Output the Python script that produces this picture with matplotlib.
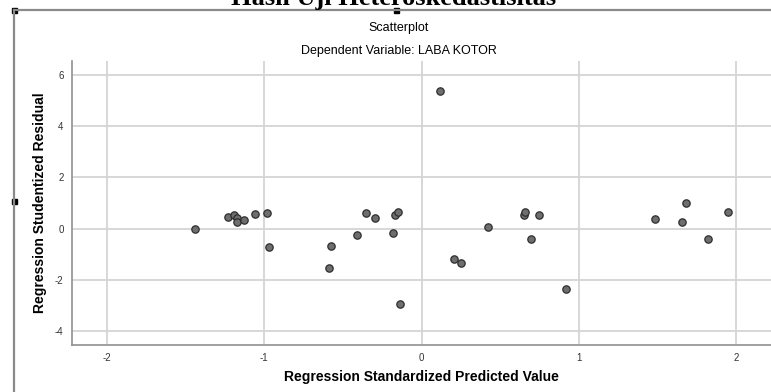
import matplotlib
matplotlib.use("Agg")
import matplotlib.pyplot as plt
from matplotlib.lines import Line2D
from matplotlib.patches import Rectangle

# standardized predicted value vs studentized residual
pred = [-1.44, -1.23, -1.19, -1.17, -1.17, -1.13, -1.055, -0.983, -0.970,
        -0.588, -0.575, -0.412, -0.352, -0.293, -0.183, -0.166, -0.151, -0.138,
        0.117, 0.208, 0.253, 0.422, 0.648, 0.660, 0.694, 0.749, 0.921,
        1.484, 1.652, 1.679, 1.817, 1.949]
resid = [0.00, 0.47, 0.52, 0.40, 0.26, 0.34, 0.56, 0.60, -0.72,
         -1.54, -0.68, -0.26, 0.60, 0.43, -0.18, 0.54, 0.63, -2.95,
         5.38, -1.19, -1.33, 0.08, 0.52, 0.65, -0.41, 0.54, -2.38,
         0.38, 0.26, 1.01, -0.39, 0.63]

xticks = [-2, -1, 0, 1, 2]
yticks = [-4, -2, 0, 2, 4, 6]

W, H = 771, 392
plt.rcParams['font.family'] = ['Liberation Sans', 'DejaVu Sans']

fig = plt.figure(figsize=(W / 100, H / 100), dpi=100)

# page decoration: frame lines and selection handles
fig.add_artist(Line2D([14 / W, 1], [1 - 10 / H, 1 - 10 / H], color='#8a8a8a', lw=1.6))
fig.add_artist(Line2D([14 / W, 14 / W], [0, 1 - 10 / H], color='#8a8a8a', lw=1.6))
for hx, hy in [(14, 10), (397, 10), (14, 202)]:
    fig.add_artist(Rectangle(((hx - 2.5) / W, 1 - (hy + 2.5) / H), 5 / W, 5 / H,
                             color='black'))

fig.text(394 / W, 1 - 5 / H, 'Hasil Uji Heteroskedastisitas', ha='center', va='baseline',
         fontsize=19, fontweight='bold', family=['Liberation Serif', 'DejaVu Serif'])
fig.text(399 / W, 1 - 28 / H, 'Scatterplot', ha='center', va='center', fontsize=9)
fig.text(399 / W, 1 - 51 / H, 'Dependent Variable: LABA KOTOR', ha='center', va='center',
         fontsize=9)

ax = fig.add_axes([72 / W, (H - 345) / H, (W - 72) / W, (345 - 61) / H])
ax.scatter(pred, resid, s=28, facecolor='#6e6e6e', edgecolor='#2e2e2e', linewidth=0.9,
           zorder=3)

ax.set_xlim(-2.22, 2.22)
ax.set_ylim(-4.55, 6.55)
ax.set_xticks(xticks)
ax.set_yticks(yticks)
ax.set_xticklabels([str(t) for t in xticks])
ax.set_yticklabels([str(t) for t in yticks])
ax.tick_params(length=0, labelsize=7, labelcolor='#333333', pad=6)
ax.grid(True, color='#d4d4d4', lw=1.3, zorder=0)
ax.set_axisbelow(True)
for s in ['top', 'right']:
    ax.spines[s].set_visible(False)
for s in ['left', 'bottom']:
    ax.spines[s].set_color('#909090')
    ax.spines[s].set_linewidth(1.2)

ax.set_xlabel('Regression Standardized Predicted Value', fontsize=10, fontweight='bold',
              labelpad=5)
ax.set_ylabel('Regression Studentized Residual', fontsize=10, fontweight='bold',
              labelpad=6)

fig.savefig('out.png', dpi=100)
